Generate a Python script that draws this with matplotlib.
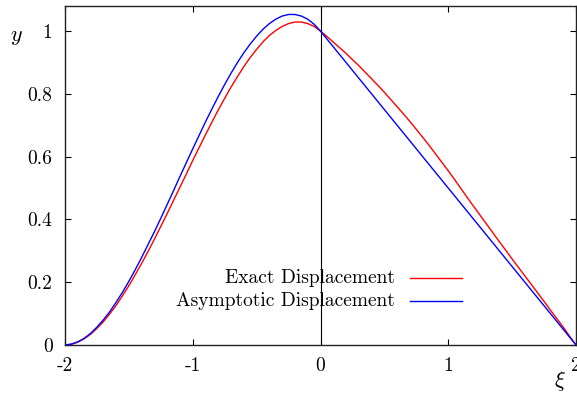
import matplotlib
matplotlib.use("Agg")
import matplotlib.pyplot as plt
import numpy as np
from matplotlib.lines import Line2D

plt.rcParams["font.family"] = ["cmr10", "DejaVu Serif"]
plt.rcParams["mathtext.fontset"] = "cm"
plt.rcParams["axes.unicode_minus"] = False

# sample abscissae (xi), step 0.05 from -2 to 2
xi = np.round(np.linspace(-2.0, 2.0, 81), 2)

exact = [0.0, 0.002, 0.009, 0.020, 0.034, 0.053, 0.074, 0.099, 0.126, 0.157,
         0.189, 0.224, 0.260, 0.298, 0.337, 0.378, 0.419, 0.461, 0.503, 0.545,
         0.588, 0.629, 0.670, 0.710, 0.749, 0.786, 0.822, 0.855, 0.887, 0.916,
         0.942, 0.966, 0.986, 1.002, 1.015, 1.024, 1.029, 1.029, 1.024, 1.015,
         1.000,
         0.983, 0.965, 0.947, 0.929, 0.909, 0.890, 0.869, 0.848, 0.827, 0.805,
         0.782, 0.759, 0.736, 0.712, 0.687, 0.662, 0.636, 0.609, 0.582, 0.555,
         0.527, 0.498, 0.469, 0.441, 0.413, 0.385, 0.357, 0.329, 0.302, 0.274,
         0.247, 0.220, 0.193, 0.166, 0.139, 0.111, 0.084, 0.057, 0.028, 0.0]

asymptotic = [0.0, 0.003, 0.010, 0.021, 0.037, 0.057, 0.080, 0.106, 0.136, 0.168,
              0.203, 0.240, 0.279, 0.320, 0.361, 0.404, 0.448, 0.492, 0.537, 0.581,
              0.625, 0.668, 0.711, 0.752, 0.792, 0.830, 0.866, 0.900, 0.931, 0.959,
              0.984, 1.006, 1.024, 1.038, 1.048, 1.053, 1.053, 1.048, 1.038, 1.022,
              1.000,
              0.975, 0.950, 0.925, 0.900, 0.875, 0.850, 0.825, 0.800, 0.775, 0.750,
              0.725, 0.700, 0.675, 0.650, 0.625, 0.600, 0.575, 0.550, 0.525, 0.500,
              0.475, 0.450, 0.425, 0.400, 0.375, 0.350, 0.325, 0.300, 0.275, 0.250,
              0.225, 0.200, 0.175, 0.150, 0.125, 0.100, 0.075, 0.050, 0.025, 0.0]

labels = ["Exact Displacement", "Asymptotic Displacement"]
colors = ["#ff0000", "#0000ff"]

xticks = [-2, -1, 0, 1, 2]
xticklabels = ["-2", "-1", "0", "1", "2"]
yticks = [0, 0.2, 0.4, 0.6, 0.8, 1.0]
yticklabels = ["0", "0.2", "0.4", "0.6", "0.8", "1"]

W, H = 577, 393
FS = 14
fig = plt.figure(figsize=(W / 100, H / 100), dpi=100)
ax = fig.add_axes([65 / W, 48 / H, 511 / W, 339 / H])

ax.axvline(0, color="black", lw=0.8, zorder=1)
for ys, c, lab in zip([exact, asymptotic], colors, labels):
    ax.plot(xi, ys, color=c, lw=1.0, label=lab, zorder=3)

ax.set_xlim(-2, 2)
ax.set_ylim(0, 1.08)
ax.set_xticks(xticks)
ax.set_xticklabels(xticklabels)
ax.set_yticks(yticks)
ax.set_yticklabels(yticklabels)
ax.tick_params(direction="in", length=4.5, width=0.8, top=True, right=True,
               labelsize=FS, pad=9, colors="black")
for s in ax.spines.values():
    s.set_linewidth(1.0)
    s.set_color("#222222")

# key: right-aligned labels followed by short line samples
key_rows = [278, 301]
for row, c, lab in zip(key_rows, colors, labels):
    fig.text(395 / W, 1 - row / H, lab, fontsize=FS, ha="right", va="center")
    fig.add_artist(Line2D([410 / W, 462 / W], [1 - row / H, 1 - row / H],
                          color=c, lw=1.0, transform=fig.transFigure))

fig.text(16 / W, 1 - 37 / H, r"$y$", fontsize=16, ha="center", va="center")
fig.text(560 / W, 1 - 381 / H, r"$\xi$", fontsize=16, ha="center", va="center")

fig.savefig("out.png", dpi=100)
